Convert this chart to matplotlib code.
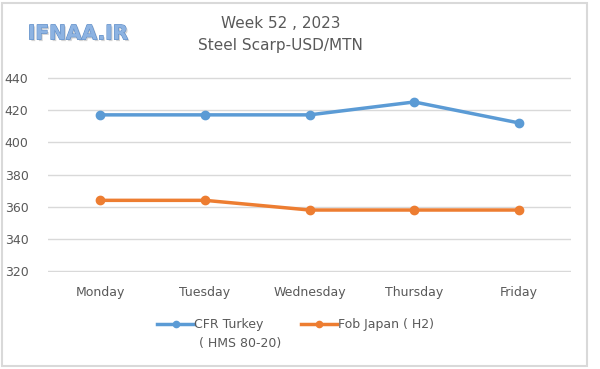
import matplotlib.pyplot as plt
import matplotlib.patheffects as pe
from matplotlib.patches import Rectangle

days = ["Monday", "Tuesday", "Wednesday", "Thursday", "Friday"]
cfr_turkey = [417, 417, 417, 425, 412]
fob_japan = [364, 364, 358, 358, 358]
yticks = [320, 340, 360, 380, 400, 420, 440]

blue = "#5B9BD5"
orange = "#ED7D31"
gray = "#595959"

fig = plt.figure(figsize=(6, 3.69), dpi=100)
ax = fig.add_axes([0.08, 0.263, 0.872, 0.528])

x = range(len(days))
l1, = ax.plot(x, cfr_turkey, color=blue, lw=2.5, marker="o", ms=6)
l2, = ax.plot(x, fob_japan, color=orange, lw=2.5, marker="o", ms=6)

ax.set_xlim(-0.5, len(days) - 0.5)
ax.set_ylim(319.6, 440.4)
ax.set_yticks(yticks)
ax.set_xticks(list(x))
ax.set_xticklabels(days)
ax.grid(axis="y", color="#D9D9D9", lw=1)
ax.set_axisbelow(True)
for s in ax.spines.values():
    s.set_visible(False)
ax.tick_params(length=0, labelsize=9, labelcolor=gray)
ax.tick_params(axis="x", pad=10)
ax.tick_params(axis="y", pad=14)

# titles
fig.text(0.468, 0.935, "Week 52 , 2023", ha="center", va="center", fontsize=11, color=gray)
fig.text(0.468, 0.878, "Steel Scarp-USD/MTN", ha="center", va="center", fontsize=11, color=gray)

# watermark
fig.text(0.13, 0.908, "IFNAA.IR", ha="center", va="center", fontsize=14.5, color="#8DB3E2",
         fontweight="bold",
         path_effects=[pe.withSimplePatchShadow(offset=(1.2, -1.2), shadow_rgbFace="#A0A0A0", alpha=0.45),
                       pe.Stroke(linewidth=0.8, foreground="#5F8DC6"), pe.Normal()])

leg = fig.legend([l1, l2], ["CFR Turkey", "Fob Japan ( H2)"],
                 loc="center", bbox_to_anchor=(0.493, 0.12), ncol=2, frameon=False,
                 fontsize=9, handlelength=2.9, handletextpad=0.05, columnspacing=3.0,
                 labelcolor=gray, markerscale=0.75)
fig.text(0.332, 0.068, "( HMS 80-20)", ha="left", va="center", fontsize=9, color=gray)

# outer border
fig.patches.append(Rectangle((0.004, 0.008), 0.975, 0.985, transform=fig.transFigure,
                             fill=False, edgecolor="#D9D9D9", lw=1.5))

fig.savefig("out.png", dpi=100)
